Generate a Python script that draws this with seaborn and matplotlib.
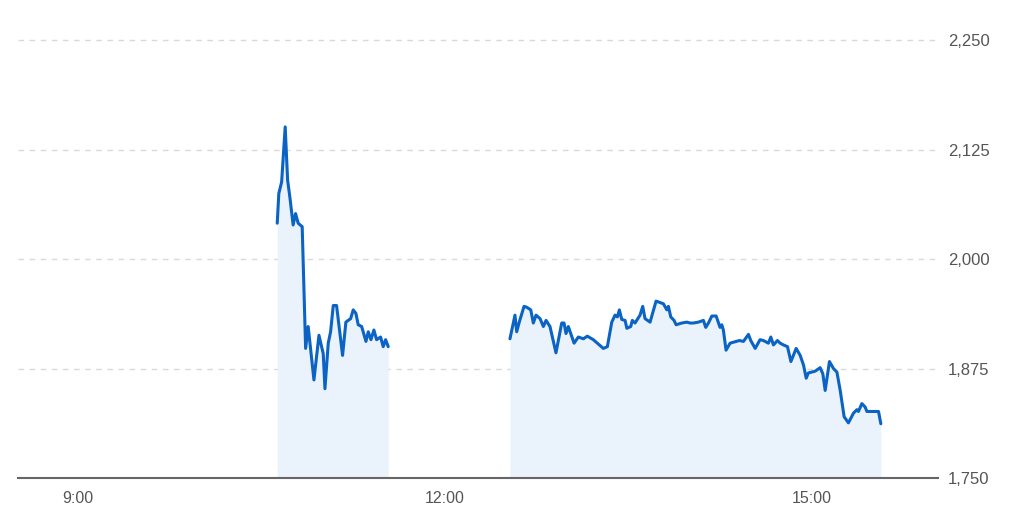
import matplotlib
matplotlib.use("Agg")
import matplotlib.pyplot as plt
import pandas as pd
import seaborn as sns

# intraday prices (time in decimal hours)
am_time = [10.630, 10.643, 10.666, 10.695, 10.715, 10.733, 10.760, 10.780, 10.801, 10.834,
           10.862, 10.883, 10.930, 10.971, 11.006, 11.020, 11.047, 11.066, 11.088, 11.115,
           11.164, 11.191, 11.210, 11.230, 11.251, 11.273, 11.292, 11.320, 11.355, 11.374,
           11.396, 11.420, 11.442, 11.475, 11.496, 11.516, 11.537]
am_price = [2041, 2075, 2088, 2151, 2090, 2071, 2039, 2052, 2041, 2037,
            1898, 1923, 1862, 1913, 1892, 1852, 1904, 1917, 1947, 1947,
            1890, 1928, 1930, 1932, 1942, 1938, 1925, 1923, 1906, 1917,
            1908, 1919, 1908, 1911, 1900, 1908, 1900]

pm_time = [12.532, 12.573, 12.587, 12.608, 12.647, 12.669, 12.702, 12.723, 12.745, 12.778,
           12.805, 12.827, 12.859, 12.908, 12.955, 12.974, 12.990, 13.009, 13.056, 13.091,
           13.132, 13.164, 13.213, 13.295, 13.328, 13.364, 13.391, 13.410, 13.426, 13.446,
           13.473, 13.487, 13.519, 13.532, 13.554, 13.595, 13.617, 13.636, 13.677, 13.726,
           13.786, 13.814, 13.827, 13.846, 13.873, 13.890, 13.936, 13.977, 14.004, 14.031,
           14.072, 14.113, 14.132, 14.154, 14.182, 14.217, 14.249, 14.263, 14.276, 14.298,
           14.331, 14.407, 14.440, 14.481, 14.500, 14.536, 14.576, 14.603, 14.644, 14.664,
           14.685, 14.718, 14.740, 14.767, 14.800, 14.828, 14.871, 14.904, 14.931, 14.953,
           14.971, 15.026, 15.067, 15.089, 15.108, 15.143, 15.176, 15.204, 15.231, 15.263,
           15.298, 15.339, 15.367, 15.380, 15.408, 15.435, 15.449, 15.544, 15.563]
pm_price = [1909, 1936, 1917, 1928, 1946, 1945, 1942, 1927, 1936, 1932,
            1923, 1930, 1923, 1893, 1927, 1927, 1915, 1923, 1904, 1911,
            1909, 1912, 1908, 1898, 1900, 1928, 1936, 1934, 1942, 1931,
            1930, 1921, 1923, 1930, 1927, 1936, 1946, 1932, 1928, 1952,
            1949, 1942, 1946, 1934, 1930, 1925, 1927, 1928, 1927, 1927,
            1928, 1930, 1922, 1927, 1935, 1935, 1922, 1925, 1919, 1896,
            1904, 1907, 1906, 1914, 1907, 1898, 1908, 1907, 1904, 1911,
            1902, 1907, 1904, 1902, 1900, 1883, 1898, 1890, 1879, 1864,
            1870, 1872, 1876, 1869, 1850, 1883, 1875, 1871, 1850, 1820,
            1813, 1824, 1828, 1826, 1835, 1831, 1826, 1826, 1812]

y_ticks = [1750, 1875, 2000, 2125, 2250]
x_ticks = [9, 12, 15]
x_labels = ["9:00", "12:00", "15:00"]

df = pd.concat([
    pd.DataFrame({"time": am_time, "price": am_price, "session": "am"}),
    pd.DataFrame({"time": pm_time, "price": pm_price, "session": "pm"}),
])

sns.set_style("white")
plt.rcParams["font.family"] = ["Liberation Sans", "DejaVu Sans"]
line_color = "#0b63c4"
fill_color = "#eaf2fb"
base = 1750

fig = plt.figure(figsize=(10.24, 5.14), dpi=100)
ax = fig.add_axes([0.018, 0.070, 0.898, 0.920])

for _, g in df.groupby("session"):
    ax.fill_between(g["time"], base, g["price"], color=fill_color, lw=0, zorder=1)

sns.lineplot(data=df, x="time", y="price", units="session", estimator=None,
             color=line_color, lw=2.2, ax=ax, zorder=3)

ax.set_xlim(8.515, 16.03)
ax.set_ylim(base, 2290)
ax.set_xticks(x_ticks)
ax.set_xticklabels(x_labels)
ax.set_yticks(y_ticks)
ax.set_yticklabels([f"{v:,}" for v in y_ticks])
ax.yaxis.tick_right()
ax.tick_params(axis="y", length=0, pad=7, labelsize=12, labelcolor="#555555")
ax.tick_params(axis="x", length=0, pad=9, labelsize=11.5, labelcolor="#555555")
ax.set_xlabel("")
ax.set_ylabel("")

for v in y_ticks[1:]:
    ax.axhline(v, color="#d9d9d9", lw=1, ls=(0, (4, 4)), zorder=0)

for s in ["top", "left", "right"]:
    ax.spines[s].set_visible(False)
ax.spines["bottom"].set_color("#666666")
ax.spines["bottom"].set_linewidth(1.5)
ax.spines["bottom"].set_zorder(4)

fig.savefig("out.png", dpi=100)
